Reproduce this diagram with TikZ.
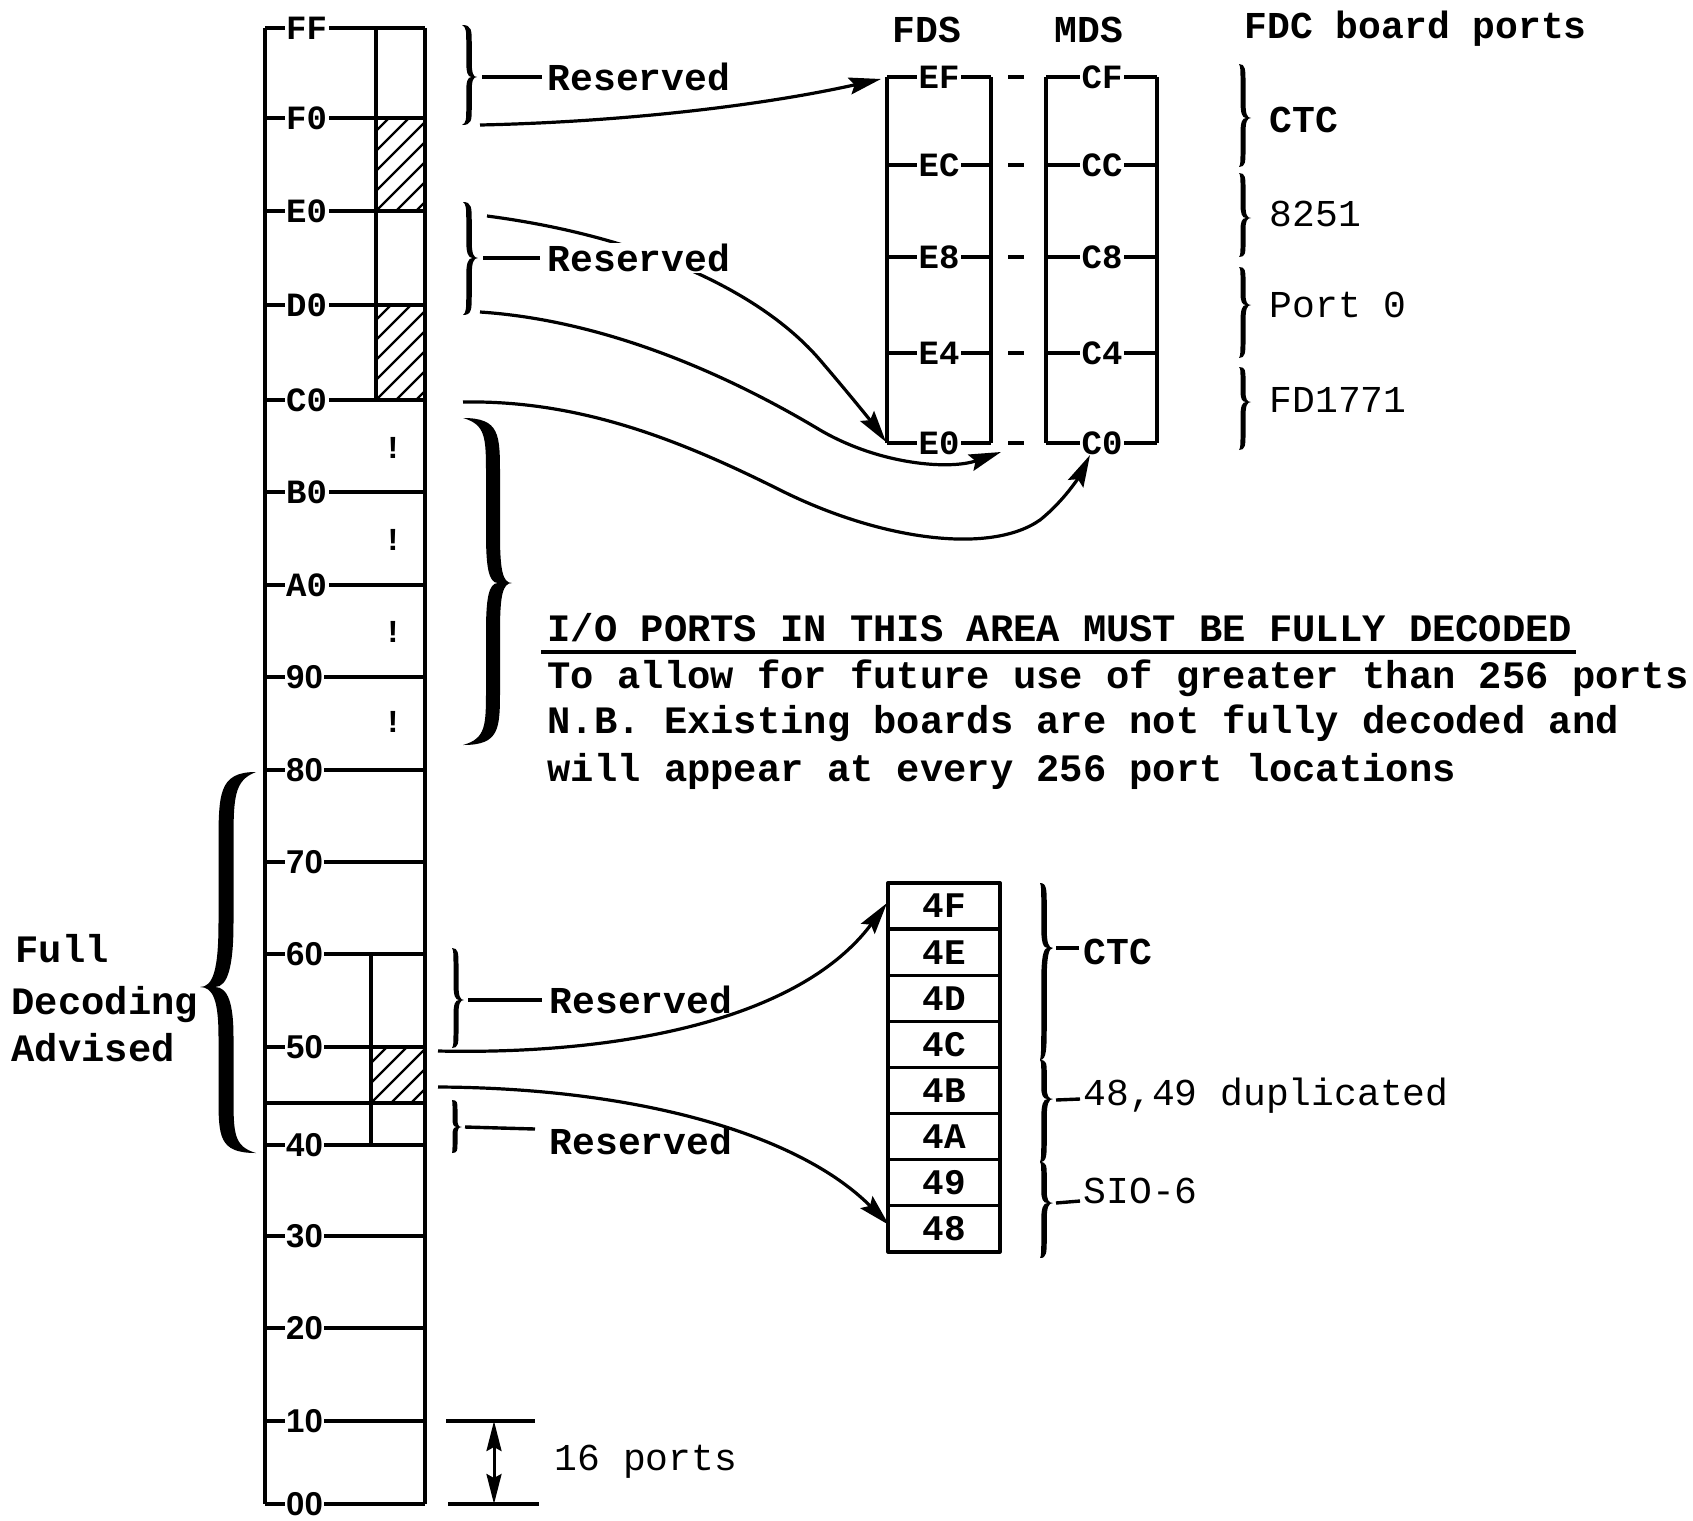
\documentclass[tikz,border=0pt]{standalone}
\usepackage{fontspec}
\newfontfamily\mono{Liberation Mono}
\newfontfamily\sansf{Liberation Sans}
\usetikzlibrary{arrows.meta}
% filled curly brace: xa (ends), xs (stem), xc (cusp), ytop, ymid, ybot, signed thickness
\newcommand\hbrace[7]{%
 \fill ({#1},{#4})
  .. controls ({#2+#7/2},{#4}) and ({#2+#7/2},{#4+0.10*(#5-#4)}) .. ({#2+#7/2},{#4+0.35*(#5-#4)})
  -- ({#2+#7/2},{#5-0.30*(#5-#4)})
  .. controls ({#2+#7/2},{#5-0.08*(#5-#4)}) and ({#3-0.5*(#3-#2)},{#5}) .. ({#3},{#5})
  .. controls ({#3-0.5*(#3-#2)},{#5}) and ({#2+#7/2},{#5+0.08*(#6-#5)}) .. ({#2+#7/2},{#5+0.30*(#6-#5)})
  -- ({#2+#7/2},{#6-0.35*(#6-#5)})
  .. controls ({#2+#7/2},{#6-0.10*(#6-#5)}) and ({#2+#7/2},{#6}) .. ({#1},{#6})
  .. controls ({#2-#7/2},{#6-0.04*(#6-#5)}) and ({#2-#7/2},{#6-0.12*(#6-#5)}) .. ({#2-#7/2},{#6-0.35*(#6-#5)})
  -- ({#2-#7/2},{#5+0.30*(#6-#5)})
  .. controls ({#2-#7/2},{#5+0.10*(#6-#5)}) and ({#3-#7-0.5*(#3-#2)},{#5}) .. ({#3-#7},{#5})
  .. controls ({#3-#7-0.5*(#3-#2)},{#5}) and ({#2-#7/2},{#5-0.10*(#5-#4)}) .. ({#2-#7/2},{#5-0.30*(#5-#4)})
  -- ({#2-#7/2},{#4+0.35*(#5-#4)})
  .. controls ({#2-#7/2},{#4+0.12*(#5-#4)}) and ({#2-#7/2},{#4+0.04*(#5-#4)}) .. ({#1},{#4}) -- cycle;
}
\tikzset{
 tick/.style={font=\mono\bfseries\fontsize{34}{34}\selectfont, fill=white, inner sep=1.5pt, anchor=west},
 tickn/.style={font=\sansf\bfseries\fontsize{33}{33}\selectfont, fill=white, inner sep=1.5pt, anchor=west},
 lbl/.style={font=\mono\bfseries\fontsize{38}{38}\selectfont, inner sep=0pt, anchor=west},
 lblr/.style={font=\mono\fontsize{38}{38}\selectfont, inner sep=0pt, anchor=west},
 para/.style={font=\mono\bfseries\fontsize{38.8}{38.8}\selectfont, inner sep=0pt, anchor=base west},
 cell/.style={font=\mono\bfseries\fontsize{36}{36}\selectfont, inner sep=2pt},
 excl/.style={font=\mono\bfseries\fontsize{32}{32}\selectfont, inner sep=0pt},
 arr/.style={line width=3.2pt, -{Stealth[length=32pt,width=17pt,inset=5pt]}},
 hatch/.style={line width=2.3pt},
}
\begin{document}
\begin{tikzpicture}[x=1pt,y=-1pt,line width=3.4pt,line join=round]
\useasboundingbox (0,0) rectangle (1693,1520);

% ---------- main port column ----------
\draw (265,28) -- (265,1504);
\draw (425,28) -- (425,1504);
\draw (376,28) -- (376,400);
\draw (371,954) -- (371,1145);
\begin{scope}
 \clip (376,118) rectangle (425,211);
 \foreach \k in {0,...,8} \draw[hatch] ({276+20*\k},211) -- ++(110,-110);
\end{scope}
\begin{scope}
 \clip (376,305) rectangle (425,400);
 \foreach \k in {0,...,8} \draw[hatch] ({276+20*\k},400) -- ++(110,-110);
\end{scope}
\begin{scope}
 \clip (371,1047) rectangle (425,1103);
 \foreach \k in {0,...,6} \draw[hatch] ({311+20*\k},1103) -- ++(80,-80);
\end{scope}
\draw (265,1103) -- (425,1103);
\foreach \y/\t in {28/FF,118/F0,211/E0,305/D0,400/C0,492/B0,585/A0} {
 \draw (265,\y) -- (425,\y);
 \node[tick] (t\t) at (283,\y) {\t};
}
\foreach \y/\t in {677/90,770/80,862/70,954/60,1047/50,1145/40,1236/30,1328/20,1421/10,1504/00} {
 \draw (265,\y) -- (425,\y);
 \node[tickn] (t\t) at (283,\y) {\t};
}
\foreach \y [count=\i] in {448,540,632,722} \node[excl] (ex\i) at (393,\y) {!};

% ---------- braces next to the column ----------
\hbrace{462}{469}{477}{25}{77}{125}{5.5}
\hbrace{463}{469}{478}{202}{258}{315}{5.5}
\hbrace{463}{493}{512}{418}{583}{745}{14}
\hbrace{452}{456}{464}{948}{1000}{1048}{5}
\hbrace{452}{455}{462}{1100}{1127}{1153}{5}
\hbrace{256}{226}{200}{772}{987}{1153}{-15}

% ---------- Reserved labels ----------
\draw (482,77) -- (542,77);
\node[lbl] (r1) at (546,77) {Reserved};
\draw (483,258) -- (540,258);
\coordinate (a2s) at (487,216);
\coordinate (a2m) at (820,360);
\coordinate (a2e) at (886,442);
\draw[arr] (a2s) .. controls (640,236) and (760,290) .. (a2m) .. controls (850,395) and (870,420) .. (a2e);
\node[lbl, fill=white, inner sep=1.5pt] (r2) at (544.5,258) {Reserved};
\draw (468,1000) -- (542,1000);
\node[lbl] (r3) at (548,1000) {Reserved};
\draw (465,1127) -- (535,1129);
\node[lbl] (r4) at (548,1141) {Reserved};

% ---------- FDS / MDS ----------
\node[lbl, anchor=center] (hFDS) at (927,30) {FDS};
\node[lbl, anchor=center] (hMDS) at (1089,30) {MDS};
\node[lbl] (hFDC) at (1243,29) {FDC board ports};
\draw (887,77) -- (887,443);
\draw (991,77) -- (991,443);
\draw (1046,77) -- (1046,443);
\draw (1157,77) -- (1157,443);
\foreach \y/\a/\b in {77/EF/CF,165/EC/CC,257/E8/C8,353/E4/C4,443/E0/C0} {
 \draw (887,\y) -- (991,\y);
 \draw (1046,\y) -- (1157,\y);
 \draw (1008,\y) -- (1024,\y);
 \node[tick, anchor=center] (f\a) at (939,\y) {\a};
 \node[tick, anchor=center] (m\b) at (1102,\y) {\b};
}
\hbrace{1239}{1243}{1251}{64}{118}{167}{5}
\hbrace{1239}{1243}{1251}{173}{218}{257}{5}
\hbrace{1239}{1243}{1251}{267}{305}{358}{5}
\hbrace{1239}{1243}{1251}{367}{402}{450}{5}
\node[lbl] (bCTC) at (1268,120) {CTC};
\node[lblr] (b8251) at (1268,214) {8251};
\node[lblr] (bPort) at (1268,305) {Port 0};
\node[lblr] (bFD) at (1268,400) {FD1771};

% ---------- I/O note ----------
\node[para] (n1) at (546,641) {I/O PORTS IN THIS AREA MUST BE FULLY DECODED};
\draw (541,652) -- (1576,652);
\node[para] (n2) at (546,688) {To allow for future use of greater than 256 ports};
\node[para] (n3) at (546,733) {N.B. Existing boards are not fully decoded and};
\node[para] (n4) at (546,781) {will appear at every 256 port locations};

% ---------- Full Decoding Advised ----------
\node[para] (fd1) at (14,962) {Full};
\node[para] (fd2) at (10,1014) {Decoding};
\node[para] (fd3) at (10,1061) {Advised};

% ---------- 4x cells ----------
\foreach \t [count=\i from 0] in {4F,4E,4D,4C,4B,4A,49,48} {
 \draw (888,{883+46.1*\i}) rectangle (1000,{883+46.1*(\i+1)});
 \node[cell] (c\t) at (944,{883+46.1*(\i+0.5)}) {\t};
}
\hbrace{1040}{1044}{1053}{883}{948}{1060}{5.5}
\hbrace{1040}{1044}{1053}{1060}{1099}{1162}{5.5}
\hbrace{1040}{1044}{1053}{1162}{1203}{1258}{5.5}
\draw (1056,948) -- (1079,948);
\node[lbl] (lCTC) at (1082,952) {CTC};
\draw (1056,1100) -- (1080,1099);
\node[lblr] (l4849) at (1082,1096) {48,49 duplicated};
\draw (1056,1203) -- (1080,1201);
\node[lblr] (lSIO) at (1082,1191) {SIO-6};

% ---------- 16 ports ----------
\draw (446,1421) -- (535,1421);
\draw (448,1504) -- (539,1504);
\coordinate (p16a) at (494,1421);
\coordinate (p16b) at (494,1504);
\draw[line width=3pt,{Stealth[length=30pt,width=15pt,inset=4pt]}-{Stealth[length=30pt,width=15pt,inset=4pt]}] (p16a) -- (p16b);
\node[lblr] (p16) at (553,1462) {16 ports};

% ---------- arrows ----------
\coordinate (a1s) at (480,125);
\coordinate (a1e) at (881,79);
\draw[arr] (a1s) .. controls (620,122) and (760,106) .. (a1e);
\coordinate (a3s) at (480,312);
\coordinate (a3m) at (820,430);
\coordinate (a3e) at (1001,452);
\draw[arr] (a3s) .. controls (600,320) and (720,370) .. (a3m) .. controls (880,465) and (950,470) .. (a3e);
\coordinate (a4s) at (463,402);
\coordinate (a4m) at (780,490);
\coordinate (a4n) at (1040,520);
\coordinate (a4e) at (1090,455);
\draw[arr] (a4s) .. controls (580,400) and (680,440) .. (a4m) .. controls (880,540) and (990,555) .. (a4n) .. controls (1065,500) and (1080,475) .. (a4e);
\coordinate (a5s) at (438,1051);
\coordinate (a5e) at (887,903);
\draw[arr] (a5s) .. controls (620,1055) and (800,1020) .. (a5e);
\coordinate (a6s) at (438,1087);
\coordinate (a6e) at (889,1225);
\draw[arr] (a6s) .. controls (640,1088) and (800,1135) .. (a6e);
\end{tikzpicture}
\end{document}
